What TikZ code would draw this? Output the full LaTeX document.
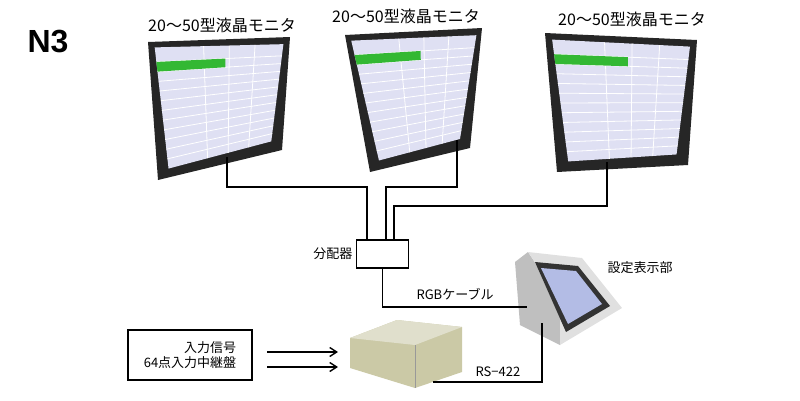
\documentclass[tikz,border=0pt]{standalone}
\usepackage{fontspec}
\setmainfont{Liberation Sans}
\newfontfamily\cjk{Noto Sans CJK JP}
\usetikzlibrary{arrows.meta,calc}
\begin{document}
\begin{tikzpicture}[x=1pt,y=-1pt,
  cable/.style={line width=1.6pt,black},
  lbl/.style={font=\cjk\fontsize{13}{15}\selectfont},
  mlbl/.style={font=\cjk\fontsize{16}{18}\selectfont},
  flow/.style={line width=1.6pt,-{Straight Barb[length=7pt,width=9pt,line width=1.4pt]}}]

\useasboundingbox (0,0) rectangle (800,400);

\newcommand{\mymonitor}[9]{% name, then corners TL, TR, BR, BL as x y pairs
\fill[black!85] (#2,#3) -- (#4,#5) -- (#6,#7) -- (#8,#9) -- cycle;
\coordinate (#1a) at ($(#2,#3)!0.05!(#6,#7)$);
\coordinate (#1b) at ($(#4,#5)!0.05!(#8,#9)$);
\coordinate (#1c) at ($(#6,#7)!0.08!(#2,#3)$);
\coordinate (#1d) at ($(#8,#9)!0.08!(#4,#5)$);
\fill[cyan!25!blue!12] (#1a) -- (#1b) -- (#1c) -- (#1d) -- cycle;
\foreach \t in {0.12,0.2,...,0.95}
  \draw[white,line width=0.8pt] ($(#1a)!\t!(#1d)$) -- ($(#1b)!\t!(#1c)$);
\foreach \t in {0.38,0.58,0.78}
  \draw[white,line width=0.8pt] ($(#1a)!\t!(#1b)$) -- ($(#1d)!\t!(#1c)$);
\fill[green!65!black!80] ($(#1a)!0.12!(#1d)$) -- ($($(#1a)!0.12!(#1d)$)!0.55!($(#1b)!0.12!(#1c)$)$) -- ($($(#1a)!0.2!(#1d)$)!0.55!($(#1b)!0.2!(#1c)$)$) -- ($(#1a)!0.2!(#1d)$) -- cycle;
}

%N3
\node[font=\bfseries\fontsize{32}{34}\selectfont] (title) at (48,42) {N3};

%monitors
\mymonitor{mon1}{148}{42}{290}{37}{282}{150}{158}{180}
\mymonitor{mon2}{345}{35}{482}{28}{470}{148}{370}{172}
\mymonitor{mon3}{545}{33}{697}{40}{688}{165}{557}{172}
\node[mlbl] (t1) at (222,25) {20～50型液晶モニタ};
\node[mlbl] (t2) at (406,16) {20～50型液晶モニタ};
\node[mlbl] (t3) at (632,19) {20～50型液晶モニタ};

%splitter
\node[draw,line width=1.4pt,minimum width=52pt,minimum height=28pt,inner sep=0] (split) at (382.5,254) {};
\node[lbl,anchor=east] (splitlbl) at (split.west) {分配器};
\coordinate (s1) at (367,240);
\coordinate (s2) at (386,240);
\coordinate (s3) at (394,240);
\draw[cable] (227,157) |- (367,187) -- (s1);
\draw[cable] (457,140) |- (386,187) -- (s2);
\draw[cable] (607,162) |- (394,206) -- (s3);

%settings display
\fill[black!25] (515,262) -- (528,252) -- (560,300) -- (560,345) -- (520,325) -- cycle;
\fill[black!12] (528,252) -- (582,258) -- (622,308) -- (560,345) -- (560,300) -- cycle;
\fill[black!80] (535,262) -- (578,266) -- (610,306) -- (566,332) -- cycle;
\fill[cyan!35!blue!30] (541,268) -- (576,271) -- (602,304) -- (568,324) -- cycle;
\coordinate (disp) at (527,307);
\coordinate (dispb) at (542,323);
\node[lbl,anchor=west] (displbl) at (604,268) {設定表示部};

%relay box
\fill[olive!25!yellow!30!gray!60] (350,338) -- (397,320) -- (462,327) -- (462,372) -- (415,388) -- (350,368) -- cycle;
\fill[olive!20!yellow!25!gray!35] (350,338) -- (397,320) -- (462,327) -- (415,345) -- cycle;
\draw[black!40] (415,345) -- (415,388);
\coordinate (relay) at (433,382);

\draw[cable] (split.south) |- (disp);
\node[lbl,anchor=south] (rgb) at (455,304) {RGBケーブル};
\draw[cable] (dispb) |- (relay);
\node[lbl,anchor=south] (rs) at (498,380) {RS−422};

%input
\node[draw,line width=1.4pt,minimum width=124pt,minimum height=50pt,align=right,lbl,inner sep=3pt] (inbox) at (190,355) {入力信号\\64点入力中継盤};
\draw[flow] (267,352) -- (338,352);
\draw[flow] (267,367) -- (338,367);

\end{tikzpicture}
\end{document}
